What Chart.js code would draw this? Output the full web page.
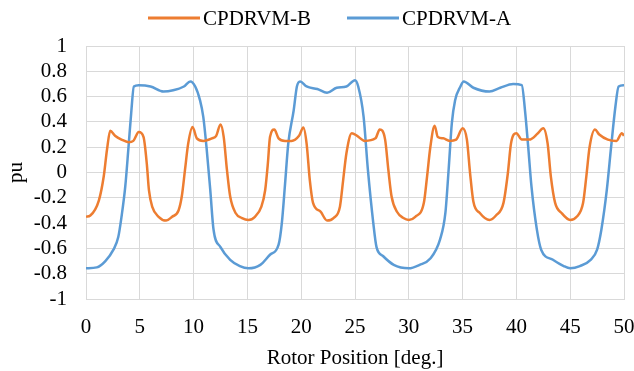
<!DOCTYPE html>
<html>
<head>
<meta charset="utf-8">
<title>CPDRVM</title>
<script src="https://cdn.jsdelivr.net/npm/chart.js@4.4.0/dist/chart.umd.min.js"></script>
<style>
  html, body { margin: 0; padding: 0; background: #fff; }
</style>
</head>
<body>
<canvas id="cpdrvm" width="634" height="371"></canvas>
<script>
// values (deg, pu)
const rotorB = [0, 0.4, 1.2, 1.65, 1.95, 2.25, 2.7, 3.3, 3.95, 4.4, 4.9, 5.35, 5.65, 5.85, 6.15, 6.75, 7.45, 8.0, 8.6, 8.9, 9.2, 9.5, 9.9, 10.3, 10.9, 11.7, 12.1, 12.5, 12.8, 13.1, 13.4, 13.9, 14.5, 15.1, 15.7, 16.3, 16.65, 16.9, 17.1, 17.5, 17.9, 18.5, 19.1, 19.8, 20.2, 20.5, 20.8, 21.1, 21.8, 22.4, 23.0, 23.6, 23.9, 24.2, 24.7, 25.2, 25.9, 26.9, 27.3, 27.8, 28.1, 28.4, 28.9, 29.5, 30.0, 30.6, 31.4, 31.7, 32.0, 32.4, 32.7, 33.2, 33.8, 34.4, 35.0, 35.4, 35.7, 36.0, 36.6, 37.5, 38.1, 38.8, 39.2, 39.5, 40.0, 40.5, 41.2, 42.0, 42.5, 42.9, 43.2, 43.6, 44.2, 45.0, 45.6, 46.2, 46.5, 46.8, 47.3, 47.7, 48.5, 49.3, 49.8, 50.0];
const puB = [-0.35, -0.34, -0.22, -0.03, 0.18, 0.33, 0.29, 0.26, 0.24, 0.25, 0.32, 0.28, 0.07, -0.14, -0.27, -0.35, -0.38, -0.35, -0.30, -0.19, 0.02, 0.23, 0.36, 0.27, 0.25, 0.27, 0.29, 0.38, 0.28, 0.02, -0.19, -0.32, -0.36, -0.375, -0.35, -0.27, -0.14, 0.07, 0.28, 0.34, 0.27, 0.25, 0.25, 0.29, 0.355, 0.23, -0.06, -0.24, -0.31, -0.38, -0.36, -0.27, -0.06, 0.15, 0.31, 0.29, 0.25, 0.27, 0.34, 0.26, 0.02, -0.19, -0.31, -0.36, -0.375, -0.35, -0.24, -0.03, 0.20, 0.37, 0.28, 0.27, 0.25, 0.26, 0.35, 0.26, -0.01, -0.23, -0.32, -0.375, -0.34, -0.24, -0.01, 0.23, 0.31, 0.26, 0.26, 0.31, 0.35, 0.23, -0.03, -0.24, -0.32, -0.375, -0.35, -0.24, -0.03, 0.20, 0.34, 0.30, 0.26, 0.25, 0.31, 0.29];

const rotorA = [0, 1.0, 1.8, 2.55, 3.0, 3.3, 3.65, 3.95, 4.2, 4.45, 4.9, 6.0, 7.2, 8.1, 9.1, 9.7, 10.15, 10.6, 10.9, 11.2, 11.55, 11.85, 12.5, 13.4, 14.3, 15.1, 16.2, 17.1, 17.9, 18.2, 18.5, 18.8, 19.3, 19.6, 19.9, 20.5, 21.5, 22.4, 23.3, 24.2, 25.0, 25.3, 25.8, 26.2, 26.7, 27.0, 27.6, 28.6, 30.0, 31.0, 32.0, 32.9, 33.4, 33.7, 34.0, 34.3, 34.8, 35.1, 36.0, 37.5, 38.5, 39.7, 40.5, 40.8, 41.1, 41.4, 41.9, 42.3, 43.4, 44.4, 45.0, 45.9, 46.9, 47.5, 47.9, 48.4, 48.8, 49.2, 49.5, 50.0];
const puA = [-0.757, -0.75, -0.70, -0.61, -0.51, -0.35, -0.11, 0.20, 0.47, 0.68, 0.69, 0.68, 0.64, 0.65, 0.68, 0.72, 0.68, 0.57, 0.44, 0.20, -0.14, -0.45, -0.59, -0.69, -0.74, -0.757, -0.73, -0.65, -0.57, -0.40, -0.09, 0.23, 0.49, 0.68, 0.72, 0.68, 0.66, 0.63, 0.67, 0.68, 0.73, 0.68, 0.44, 0.02, -0.40, -0.59, -0.66, -0.73, -0.757, -0.73, -0.68, -0.53, -0.32, 0.02, 0.39, 0.57, 0.68, 0.72, 0.67, 0.64, 0.67, 0.70, 0.69, 0.49, 0.20, -0.11, -0.45, -0.61, -0.69, -0.74, -0.757, -0.74, -0.69, -0.61, -0.45, -0.14, 0.20, 0.52, 0.68, 0.69];

const seriesNames = ["CPDRVM-B", "CPDRVM-A"];
const seriesColors = ["#ED7D31", "#5B9BD5"];
const xTicks = [0, 5, 10, 15, 20, 25, 30, 35, 40, 45, 50];
const yTicks = [1, 0.8, 0.6, 0.4, 0.2, 0, -0.2, -0.4, -0.6, -0.8, -1];

const FONT = "'Liberation Serif', 'Times New Roman', serif";
const FONT_SIZE = 21;
const GRID = "#d9d9d9";

function toPoints(xs, ys) {
  return xs.map((x, i) => ({ x: x, y: ys[i] }));
}

// Excel-like legend: short line sample followed by the name, sitting left of centre
const lineLegend = {
  id: "lineLegend",
  afterDraw(chart) {
    const ctx = chart.ctx;
    const starts = [148, 347];
    ctx.save();
    ctx.font = FONT_SIZE + "px " + FONT;
    ctx.textBaseline = "middle";
    ctx.fillStyle = "#000";
    chart.data.datasets.forEach((ds, i) => {
      const x = starts[i];
      ctx.strokeStyle = ds.borderColor;
      ctx.lineWidth = 3;
      ctx.beginPath();
      ctx.moveTo(x, 18);
      ctx.lineTo(x + 52, 18);
      ctx.stroke();
      ctx.fillText(ds.label, x + 55, 19);
    });
    ctx.restore();
  }
};

const ctx = document.getElementById("cpdrvm").getContext("2d");
new Chart(ctx, {
  type: "scatter",
  data: {
    datasets: [
      {
        label: seriesNames[0],
        data: toPoints(rotorB, puB),
        borderColor: seriesColors[0],
        backgroundColor: seriesColors[0],
        showLine: true,
        borderWidth: 2.5,
        pointRadius: 0,
        cubicInterpolationMode: "monotone"
      },
      {
        label: seriesNames[1],
        data: toPoints(rotorA, puA),
        borderColor: seriesColors[1],
        backgroundColor: seriesColors[1],
        showLine: true,
        borderWidth: 2.5,
        pointRadius: 0,
        cubicInterpolationMode: "monotone"
      }
    ]
  },
  options: {
    responsive: false,
    animation: false,
    layout: { padding: { top: 46, right: 0, left: 0, bottom: 0 } },
    plugins: {
      legend: { display: false },
      tooltip: { enabled: false }
    },
    scales: {
      x: {
        type: "linear",
        min: 0,
        max: 50,
        afterBuildTicks: scale => { scale.ticks = xTicks.map(v => ({ value: v })); },
        afterFit: scale => {
          scale.height = 72;
          scale.paddingRight = 10;
        },
        grid: { color: GRID, lineWidth: 1, drawTicks: false },
        border: { color: GRID, width: 1 },
        ticks: {
          color: "#000",
          padding: 16,
          autoSkip: false,
          maxRotation: 0,
          font: { family: FONT, size: FONT_SIZE }
        },
        title: {
          display: true,
          text: "Rotor Position [deg.]",
          color: "#000",
          padding: { top: 0, bottom: 0 },
          font: { family: FONT, size: FONT_SIZE }
        }
      },
      y: {
        min: -1,
        max: 1,
        afterBuildTicks: scale => { scale.ticks = yTicks.map(v => ({ value: v })); },
        afterFit: scale => { scale.width = 86; },
        grid: { color: GRID, lineWidth: 1, drawTicks: false },
        border: { color: GRID, width: 1 },
        ticks: {
          color: "#000",
          padding: 19,
          autoSkip: false,
          font: { family: FONT, size: FONT_SIZE },
          callback: v => String(Math.round(v * 10) / 10)
        },
        title: {
          display: true,
          text: "pu",
          color: "#000",
          padding: { top: 4, bottom: 0 },
          font: { family: FONT, size: FONT_SIZE }
        }
      }
    }
  },
  plugins: [lineLegend]
});
</script>
</body>
</html>
